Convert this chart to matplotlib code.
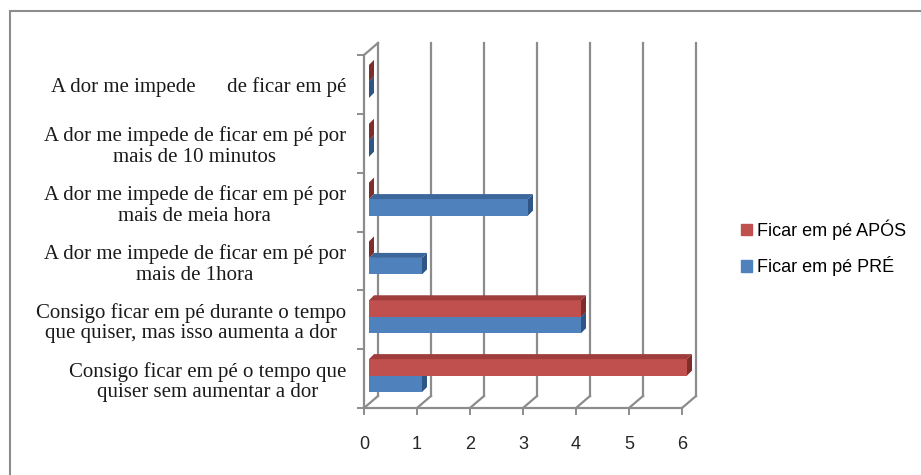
import matplotlib.pyplot as plt
from matplotlib.patches import Polygon, Patch, Rectangle

# dados
categorias = [
    'Consigo ficar em pé o tempo que\nquiser sem aumentar a dor',
    'Consigo ficar em pé durante o tempo\nque quiser, mas isso aumenta a dor',
    'A dor me impede de ficar em pé por\nmais de 1hora',
    'A dor me impede de ficar em pé por\nmais de meia hora',
    'A dor me impede de ficar em pé por\nmais de 10 minutos',
    'A dor me impede      de ficar em pé',
]
pre = [1, 4, 1, 3, 0, 0]
apos = [6, 4, 0, 0, 0, 0]
series = ['Ficar em pé APÓS', 'Ficar em pé PRÉ']
xticks = [0, 1, 2, 3, 4, 5, 6]

W, H = 921, 475
fig = plt.figure(figsize=(W / 100, H / 100), dpi=100)
ax = fig.add_axes([364 / W, 1 - 408 / H, (682 - 364) / W, (408 - 55) / H])
ax.set_xlim(0, 6)
ax.set_ylim(0, 6)
for s in ax.spines.values():
    s.set_visible(False)

px = 6 / (682 - 364)   # unidades por pixel (x)
py = 6 / (408 - 55)    # unidades por pixel (y)
grid = '#8c8c8c'

# parede de fundo (3D)
dxw, dyw = 14 * px, 12 * py
for k in xticks:
    ax.plot([k + dxw, k + dxw], [dyw, 6 + dyw], color=grid, lw=1.6, clip_on=False, zorder=1)
    ax.plot([k, k + dxw], [0, dyw], color=grid, lw=1.6, clip_on=False, zorder=1)
ax.plot([0, 6], [0, 0], color=grid, lw=1.6, clip_on=False, zorder=1)
ax.plot([0, 0], [0, 6], color=grid, lw=1.6, clip_on=False, zorder=1)
ax.plot([0, dxw], [6, 6 + dyw], color=grid, lw=1.6, clip_on=False, zorder=1)

# barras 3D
ox, oy = 5 * px, 3 * py      # deslocamento da face frontal
dx, dy = 5 * px, 5 * py      # profundidade da barra
h = 0.28
cores = {
    'red': ('#c0504d', '#9e3d3b', '#7f2d2b'),
    'blue': ('#4f81bd', '#3c679b', '#2e5586'),
}


def barra3d(y0, v, cor, z):
    frente, topo, lado = cores[cor]
    x0 = ox
    yb = y0 + oy
    ax.barh(yb + h / 2, v, height=h, left=x0, color=frente, zorder=z, clip_on=False)
    ax.add_patch(Polygon([(x0, yb + h), (x0 + v, yb + h), (x0 + v + dx, yb + h + dy),
                          (x0 + dx, yb + h + dy)], closed=True, color=topo, lw=0, zorder=z,
                         clip_on=False))
    ax.add_patch(Polygon([(x0 + v, yb), (x0 + v, yb + h), (x0 + v + dx, yb + h + dy),
                          (x0 + v + dx, yb + dy)], closed=True, color=lado, lw=0, zorder=z,
                         clip_on=False))


for i in range(len(categorias)):
    c = i + 0.5
    barra3d(c - h, pre[i], 'blue', 3)
    barra3d(c, apos[i], 'red', 4)

# eixos
ax.set_xticks(xticks)
ax.set_xticklabels([str(t) for t in xticks], fontsize=13, family='Liberation Sans', color='#262626')
ax.tick_params(axis='x', length=5, width=1.4, color=grid, pad=15)
ax.set_yticks(range(7))
ax.set_yticklabels([])
ax.tick_params(axis='y', which='major', length=5, width=1.4, color=grid)
ax.set_yticks([i + 0.5 for i in range(6)], minor=True)
ax.set_yticklabels(categorias, minor=True, fontsize=15, family='Liberation Serif',
                   multialignment='center', color='#1a1a1a', linespacing=1.12)
ax.tick_params(axis='y', which='minor', length=0, pad=13)

# legenda
alcas = [Patch(color='#c0504d'), Patch(color='#4f81bd')]
fig.legend(alcas, series, loc='center left', bbox_to_anchor=(741 / W, 1 - 248 / H),
           frameon=False, prop={'family': 'Liberation Sans', 'size': 13},
           handlelength=0.6, handleheight=0.6, handletextpad=0.3, labelspacing=0.9,
           borderpad=0, borderaxespad=0)

# moldura do gráfico
fig.patches.append(Rectangle((10 / W, -0.1), 1, 1.1 - 11 / H, transform=fig.transFigure,
                             fill=False, edgecolor='#8c8c8c', lw=1.5))

fig.savefig('out.png', dpi=100)
